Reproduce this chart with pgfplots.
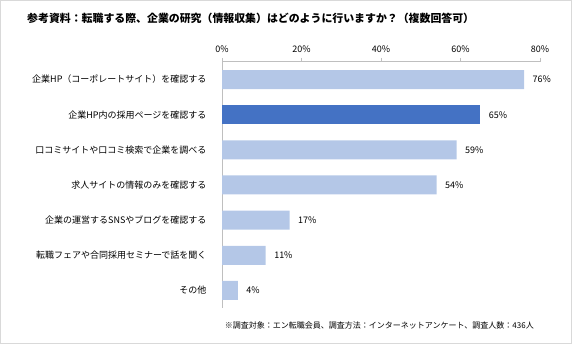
\documentclass[border=0pt]{standalone}
\usepackage{fontspec}
\setmainfont{Noto Sans CJK JP}
\usepackage{pgfplots}
\pgfplotsset{compat=1.18}
\definecolor{barlight}{HTML}{B4C7E7}
\definecolor{bardark}{HTML}{4472C4}
\definecolor{axgray}{HTML}{BFBFBF}
\definecolor{framegray}{HTML}{D9D9D9}
\begin{document}
\begin{tikzpicture}[x=1pt,y=1pt]
\useasboundingbox (0pt,0pt) rectangle (572pt,344pt);
\draw[framegray, line width=1pt] (0.5pt,0.5pt) rectangle (571.5pt,343.5pt);
\node[anchor=west, inner sep=0pt, font=\fontsize{10.9}{12}\selectfont\bfseries] at (27pt,326pt) {参考資料：転職する際、企業の研究（情報収集）はどのように行いますか？（複数回答可）};
\node[anchor=east, inner sep=0pt, font=\fontsize{8}{10}\selectfont] at (534pt,19pt) {※調査対象：エン転職会員、調査方法：インターネットアンケート、調査人数：436人};
\begin{axis}[at={(222pt,36pt)}, anchor=south west, scale only axis,
  width=318pt, height=246pt,
  xmin=0, xmax=80, ymin=-0.5, ymax=6.5, y dir=reverse,
  axis x line*=top, axis y line*=left,
  axis line style={axgray, line width=1pt, -},
  xtick={0,20,40,60,80},
  xticklabel={\pgfmathprintnumber{\tick}\%},
  xtick style={axgray, line width=1pt},
  tick align=outside, major tick length=4pt,
  ytick={0,...,6},
  yticklabels={企業HP（コーポレートサイト）を確認する, 企業HP内の採用ページを確認する, 口コミサイトや口コミ検索で企業を調べる, 求人サイトの情報のみを確認する, 企業の運営するSNSやブログを確認する, 転職フェアや合同採用セミナーで話を聞く, その他},
  ytick style={draw=none},
  yticklabel style={font=\fontsize{9}{11}\selectfont, xshift=-8pt},
  xticklabel style={font=\fontsize{9}{11}\selectfont, yshift=2pt},
  /pgf/number format/assume math mode=true,
  nodes near coords={\pgfmathprintnumber{\pgfplotspointmeta}\%},
  nodes near coords style={font=\fontsize{9}{11}\selectfont, xshift=5pt},
  point meta=x,
  clip=false,
]
\addplot[xbar, bar width=19pt, bar shift=0pt, fill=barlight, draw=none]
  coordinates {(76,0) (59,2) (54,3) (17,4) (11,5) (4,6)};
\addplot[xbar, bar width=19pt, bar shift=0pt, fill=bardark, draw=none]
  coordinates {(65,1)};
\end{axis}
\end{tikzpicture}
\end{document}
